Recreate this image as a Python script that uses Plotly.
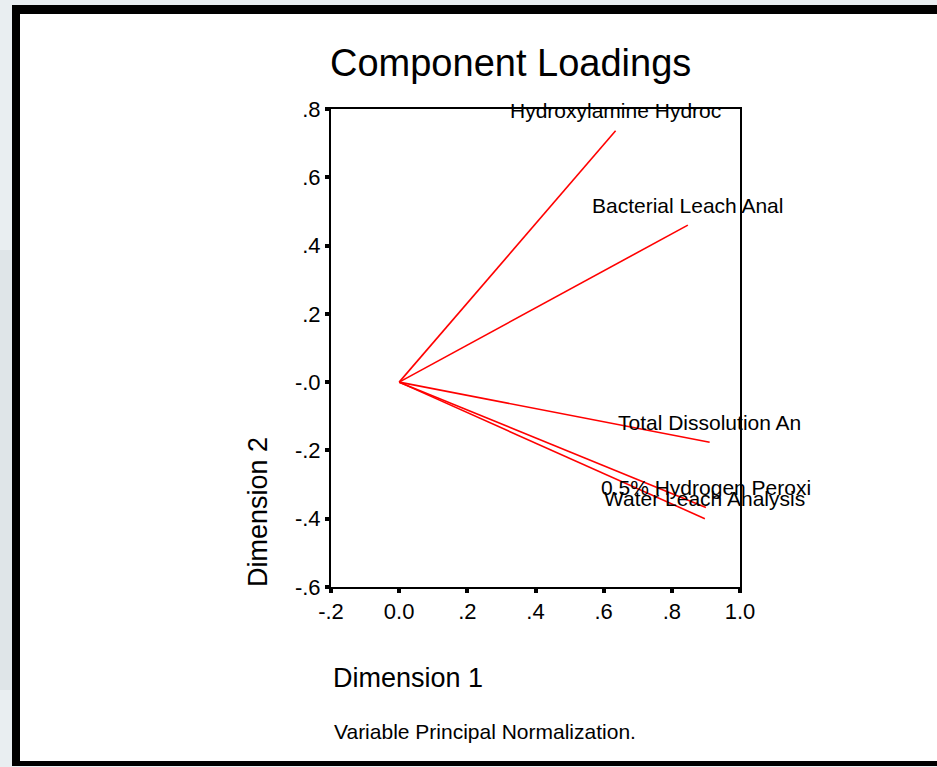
"""Component loadings plot (SPSS-style CATPCA output)."""
import plotly.graph_objects as go

# loadings
variables = [
    "Hydroxylamine Hydroc",
    "Bacterial Leach Anal",
    "Total Dissolution An",
    "0.5% Hydrogen Peroxi",
    "Water Leach Analysis",
]
dim1 = [0.635, 0.847, 0.911, 0.900, 0.897]
dim2 = [0.736, 0.460, -0.176, -0.367, -0.400]

x_ticks = [-0.2, 0.0, 0.2, 0.4, 0.6, 0.8, 1.0]
x_ticktext = ["-.2", "0.0", ".2", ".4", ".6", ".8", "1.0"]
y_ticks = [0.8, 0.6, 0.4, 0.2, 0.0, -0.2, -0.4, -0.6]
y_ticktext = [".8", ".6", ".4", ".2", "-.0", "-.2", "-.4", "-.6"]

FONT = "Liberation Sans, Arial, sans-serif"
W, H = 937, 767
ML, MR, MT, MB = 331, 197, 109, 180
PW, PH = W - ML - MR, H - MT - MB


def px(x):
    return (x - ML) / PW


def py(y):
    return (H - MB - y) / PH


fig = go.Figure()

# one line from the origin per variable
for name, a, b in zip(variables, dim1, dim2):
    fig.add_scatter(x=[0, a], y=[0, b], mode="lines", name=name,
                    line=dict(color="#ff0000", width=1.6), hoverinfo="skip")
    fig.add_annotation(x=a, y=b, text=name, showarrow=False, yshift=20,
                       xanchor="center", yanchor="middle",
                       font=dict(family=FONT, size=21, color="#000000"))

# page frame (slide background + black border)
fig.add_shape(type="rect", xref="paper", yref="paper", layer="below",
              x0=px(0), x1=px(12), y0=py(690), y1=py(250),
              line_width=0, fillcolor="#dfe5e8")
fig.add_shape(type="rect", xref="paper", yref="paper", layer="below",
              x0=px(12), x1=px(960), y0=py(766), y1=py(5),
              line_width=0, fillcolor="#000000")
fig.add_shape(type="rect", xref="paper", yref="paper", layer="below",
              x0=px(20), x1=px(960), y0=py(761), y1=py(14),
              line_width=0, fillcolor="#ffffff")

fig.add_annotation(x=px(510), y=py(63), xref="paper", yref="paper",
                   text="Component Loadings", showarrow=False,
                   xanchor="center", yanchor="middle",
                   font=dict(family=FONT, size=38, color="#000000"))
fig.add_annotation(x=px(331), y=py(678), xref="paper", yref="paper",
                   text="Dimension 1", showarrow=False,
                   xanchor="left", yanchor="middle",
                   font=dict(family=FONT, size=27, color="#000000"))
fig.add_annotation(x=px(258), y=py(512), xref="paper", yref="paper",
                   text="Dimension 2", showarrow=False, textangle=-90,
                   xanchor="center", yanchor="middle",
                   font=dict(family=FONT, size=27, color="#000000"))
fig.add_annotation(x=px(332), y=py(731), xref="paper", yref="paper",
                   text="Variable Principal Normalization.", showarrow=False,
                   xanchor="left", yanchor="middle",
                   font=dict(family=FONT, size=21, color="#000000"))

axis = dict(showgrid=False, zeroline=False, showline=True, linecolor="#000000",
            linewidth=2, mirror=True, ticks="outside", ticklen=4, tickwidth=4,
            tickcolor="#000000", tickfont=dict(family=FONT, size=22, color="#000000"))
fig.update_xaxes(range=[-0.2, 1.0], tickvals=x_ticks, ticktext=x_ticktext, **axis)
fig.update_yaxes(range=[-0.6, 0.8], tickvals=y_ticks, ticktext=y_ticktext, **axis)

fig.update_layout(width=W, height=H, margin=dict(l=ML, r=MR, t=MT, b=MB),
                  paper_bgcolor="#e9eef1", plot_bgcolor="#ffffff",
                  showlegend=False, font=dict(family=FONT))

# drop the browser's default 8px body margin so the figure sits at (0, 0)
fig.write_html("out.html", config={"displayModeBar": False},
               post_script="document.body.style.margin='0';"
                           "document.body.style.overflow='hidden';")
